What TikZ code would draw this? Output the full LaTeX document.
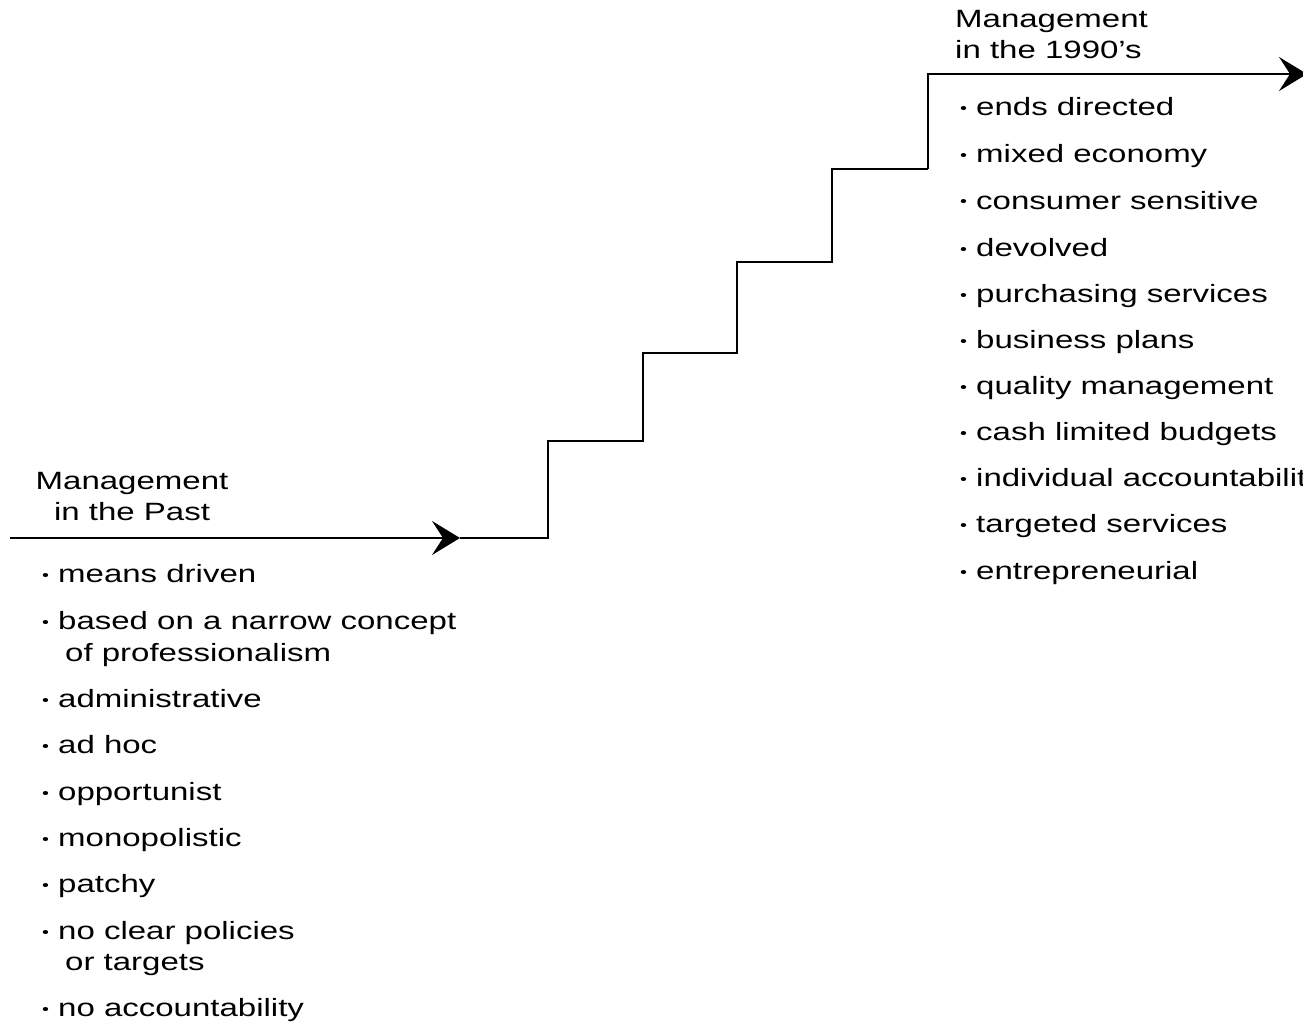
\documentclass[tikz,border=0pt]{standalone}
\usepackage{fontspec}
\setmainfont{Liberation Sans}[FakeStretch=1.32]
\usetikzlibrary{arrows.meta}
\newcommand\bul{\makebox[16pt][l]{\raisebox{2pt}{\fontsize{15}{15}\selectfont •}}}
\begin{document}
\begin{tikzpicture}[x=1pt,y=-1pt,
  txt/.style={inner sep=0pt,anchor=base west,font=\fontsize{25}{31}\selectfont},
  head/.style={inner sep=0pt,font=\fontsize{25}{31}\selectfont},
  stair/.style={line width=2pt,line join=miter},
  tip/.style={-{Stealth[length=28pt,width=34pt,inset=11pt]}}]
\useasboundingbox (0,0) rectangle (1303,1027);
\clip (0,0) rectangle (1303,1027);

% headings (base anchor sits on the last line)
\node[head,align=center,anchor=base] (hpast) at (132,520) {Management\\in the Past};
\node[head,align=left,anchor=base west] (hnew) at (955,59) {Management\\in the 1990's};

% the old ways
\node[txt] (p1)  at (42,582)  {\bul means driven};
\node[txt] (p2)  at (42,629)  {\bul based on a narrow concept};
\node[txt] (p2b) at (65,661)  {of professionalism};
\node[txt] (p3)  at (42,707)  {\bul administrative};
\node[txt] (p4)  at (42,753)  {\bul ad hoc};
\node[txt] (p5)  at (42,800)  {\bul opportunist};
\node[txt] (p6)  at (42,846)  {\bul monopolistic};
\node[txt] (p7)  at (42,892)  {\bul patchy};
\node[txt] (p8)  at (42,939)  {\bul no clear policies};
\node[txt] (p8b) at (65,970)  {or targets};
\node[txt] (p9)  at (42,1016) {\bul no accountability};

% the new ways
\node[txt] (n1)  at (960,116) {\bul ends directed};
\node[txt] (n2)  at (960,163) {\bul mixed economy};
\node[txt] (n3)  at (960,209) {\bul consumer sensitive};
\node[txt] (n4)  at (960,256) {\bul devolved};
\node[txt] (n5)  at (960,302) {\bul purchasing services};
\node[txt] (n6)  at (960,348) {\bul business plans};
\node[txt] (n7)  at (960,394) {\bul quality management};
\node[txt] (n8)  at (960,440) {\bul cash limited budgets};
\node[txt] (n9)  at (960,486) {\bul individual accountability};
\node[txt] (n10) at (960,532) {\bul targeted services};
\node[txt] (n11) at (960,579) {\bul entrepreneurial};

% staircase
\coordinate (start) at (10,538);
\coordinate (mid)   at (460,538);
\coordinate (foot)  at (548,538);
\coordinate (st1)   at (643,441);
\coordinate (st2)   at (737,353);
\coordinate (st3)   at (832,262);
\coordinate (st4)   at (928,169);
\coordinate (stop)  at (1307,74);

\draw[stair,tip] (start) -- (mid);
\draw[stair] (mid) -- (foot) |- (st1) |- (st2) |- (st3) |- (st4);
\draw[stair,tip] (st4) |- (stop);
\end{tikzpicture}
\end{document}
